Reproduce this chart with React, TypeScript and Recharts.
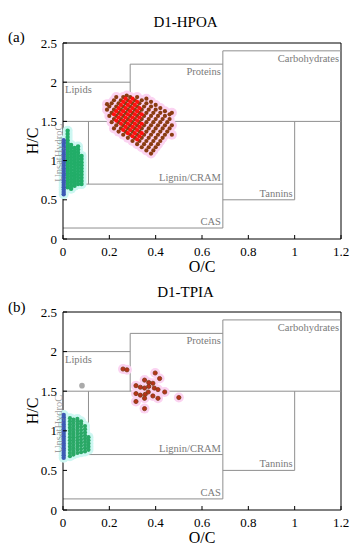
import React from "react";
import { ScatterChart, Scatter, XAxis, YAxis, ReferenceLine, ReferenceDot } from "recharts";

type Pt = [number, number];

const xTicks = [0, 0.2, 0.4, 0.6, 0.8, 1, 1.2];
const yTicks = [0, 0.5, 1, 1.5, 2, 2.5];

// van Krevelen compound-class boxes (O/C, H/C)
const regionLines: Pt[][] = [
  [[0, 2.0], [0.29, 2.0]],
  [[0.29, 1.5], [0.29, 2.23]],
  [[0.29, 2.23], [0.69, 2.23]],
  [[0.69, 0.14], [0.69, 2.4]],
  [[0.69, 2.4], [1.2, 2.4]],
  [[0, 1.5], [1.2, 1.5]],
  [[0.11, 0.7], [0.11, 1.5]],
  [[0, 0.7], [0.69, 0.7]],
  [[0.69, 0.5], [1.0, 0.5]],
  [[1.0, 0.5], [1.0, 1.5]],
  [[0, 0.14], [0.69, 0.14]],
];

const regionNames = ["Lipids", "Proteins", "Carbohydrates", "Lignin/CRAM", "Tannins", "CAS"];
const regionCorners: Pt[] = [[0, 2.0], [0.69, 2.23], [1.2, 2.4], [0.69, 0.7], [1.0, 0.5], [0.69, 0.14]];

// D1-HPOA
const hpoaBrown: Pt[] = [
  [0.22, 1.41], [0.24, 1.37], [0.26, 1.33], [0.28, 1.29], [0.3, 1.25], [0.32, 1.21], [0.34, 1.17], [0.36, 1.13], [0.38, 1.09],
  [0.21, 1.49], [0.23, 1.45], [0.25, 1.41], [0.27, 1.37], [0.29, 1.33], [0.31, 1.29], [0.33, 1.25], [0.35, 1.21], [0.37, 1.17], [0.39, 1.13],
  [0.2, 1.57], [0.22, 1.53], [0.24, 1.49], [0.26, 1.45], [0.28, 1.41], [0.3, 1.37], [0.32, 1.33], [0.34, 1.29], [0.36, 1.25], [0.38, 1.21], [0.4, 1.17],
  [0.19, 1.65], [0.21, 1.61], [0.23, 1.57], [0.25, 1.53], [0.27, 1.49], [0.29, 1.45], [0.31, 1.41], [0.33, 1.37], [0.35, 1.33], [0.37, 1.29], [0.39, 1.25], [0.41, 1.21],
  [0.19, 1.72], [0.2, 1.69], [0.22, 1.65], [0.24, 1.61], [0.26, 1.57], [0.28, 1.53], [0.3, 1.49], [0.32, 1.45], [0.34, 1.41], [0.36, 1.37], [0.38, 1.33], [0.4, 1.29], [0.42, 1.25],
  [0.21, 1.73], [0.23, 1.69], [0.25, 1.65], [0.27, 1.61], [0.29, 1.57], [0.31, 1.53], [0.33, 1.49], [0.35, 1.45], [0.37, 1.41], [0.39, 1.37], [0.41, 1.33], [0.43, 1.29],
  [0.22, 1.77], [0.24, 1.73], [0.26, 1.69], [0.28, 1.65], [0.3, 1.61], [0.32, 1.57], [0.34, 1.53], [0.36, 1.49], [0.38, 1.45], [0.4, 1.41], [0.42, 1.37], [0.44, 1.33],
  [0.23, 1.81], [0.25, 1.77], [0.27, 1.73], [0.29, 1.69], [0.31, 1.65], [0.33, 1.61], [0.35, 1.57], [0.37, 1.53], [0.39, 1.49], [0.41, 1.45], [0.43, 1.41], [0.45, 1.37], [0.47, 1.33],
  [0.26, 1.81], [0.28, 1.77], [0.3, 1.73], [0.32, 1.69], [0.34, 1.65], [0.36, 1.61], [0.38, 1.57], [0.4, 1.53], [0.42, 1.49], [0.44, 1.45], [0.46, 1.41],
  [0.29, 1.81], [0.31, 1.77], [0.33, 1.73], [0.35, 1.69], [0.37, 1.65], [0.39, 1.61], [0.41, 1.57], [0.43, 1.53], [0.45, 1.49], [0.47, 1.45],
  [0.32, 1.81], [0.34, 1.77], [0.36, 1.73], [0.38, 1.69], [0.4, 1.65], [0.42, 1.61], [0.44, 1.57], [0.46, 1.53],
  [0.36, 1.79], [0.38, 1.75], [0.4, 1.71], [0.42, 1.67], [0.44, 1.63], [0.46, 1.59],
  [0.275, 1.83], [0.47, 1.61],
];
const hpoaRed: Pt[] = [
  [0.26, 1.39], [0.28, 1.35], [0.3, 1.31], [0.32, 1.27],
  [0.23, 1.51], [0.25, 1.47], [0.27, 1.43], [0.29, 1.39], [0.31, 1.35], [0.33, 1.31],
  [0.22, 1.59], [0.24, 1.55], [0.26, 1.51], [0.28, 1.47], [0.3, 1.43], [0.32, 1.39], [0.34, 1.35],
  [0.23, 1.63], [0.25, 1.59], [0.27, 1.55], [0.29, 1.51], [0.31, 1.47], [0.33, 1.43],
  [0.24, 1.67], [0.26, 1.63], [0.28, 1.59], [0.3, 1.55], [0.32, 1.51], [0.34, 1.47],
  [0.25, 1.71], [0.27, 1.67], [0.29, 1.63], [0.31, 1.59], [0.33, 1.55],
  [0.26, 1.75], [0.28, 1.71], [0.3, 1.67], [0.32, 1.63], [0.34, 1.59],
  [0.27, 1.79], [0.29, 1.75], [0.31, 1.71], [0.33, 1.67],
  [0.3, 1.79], [0.32, 1.75],
];
const hpoaGreen: Pt[] = [
  [0.02, 0.66], [0.02, 0.7], [0.02, 0.74], [0.02, 0.78], [0.02, 0.82], [0.02, 0.86], [0.02, 0.9], [0.02, 0.94], [0.02, 0.98], [0.02, 1.02],
  [0.02, 1.06], [0.02, 1.1], [0.02, 1.14], [0.02, 1.18], [0.02, 1.22], [0.02, 1.26], [0.02, 1.3], [0.02, 1.34], [0.02, 1.38],
  [0.035, 0.64], [0.035, 0.68], [0.035, 0.72], [0.035, 0.76], [0.035, 0.8], [0.035, 0.84], [0.035, 0.88], [0.035, 0.92], [0.035, 0.96],
  [0.035, 1.0], [0.035, 1.04], [0.035, 1.08], [0.035, 1.12], [0.035, 1.16], [0.035, 1.2],
  [0.05, 0.68], [0.05, 0.72], [0.05, 0.76], [0.05, 0.8], [0.05, 0.84], [0.05, 0.88], [0.05, 0.92], [0.05, 0.96], [0.05, 1.0],
  [0.05, 1.04], [0.05, 1.08], [0.05, 1.12], [0.05, 1.16],
  [0.065, 0.7], [0.065, 0.74], [0.065, 0.78], [0.065, 0.82], [0.065, 0.86], [0.065, 0.9], [0.065, 0.94], [0.065, 0.98], [0.065, 1.02],
  [0.065, 1.06], [0.065, 1.1], [0.065, 1.14], [0.065, 1.18],
  [0.08, 0.7], [0.08, 0.74], [0.08, 0.78], [0.08, 0.82], [0.08, 0.86], [0.08, 0.9], [0.08, 0.94], [0.08, 0.98], [0.08, 1.02], [0.08, 1.06],
];
const hpoaBlue: Pt[] = [
  [0.003, 0.57], [0.003, 0.6], [0.003, 0.63], [0.003, 0.66], [0.003, 0.69], [0.003, 0.72], [0.003, 0.75], [0.003, 0.78],
  [0.003, 0.81], [0.003, 0.84], [0.003, 0.87], [0.003, 0.9], [0.003, 0.93], [0.003, 0.96], [0.003, 0.99], [0.003, 1.02],
  [0.003, 1.05], [0.003, 1.08], [0.003, 1.11], [0.003, 1.14], [0.003, 1.17], [0.003, 1.2], [0.003, 1.23], [0.003, 1.26],
];

// D1-TPIA
const tpiaRed: Pt[] = [
  [0.259, 1.78], [0.276, 1.77], [0.398, 1.73], [0.417, 1.66], [0.352, 1.64], [0.37, 1.61], [0.388, 1.6], [0.315, 1.57],
  [0.334, 1.55], [0.352, 1.54], [0.37, 1.56], [0.394, 1.54], [0.41, 1.52], [0.439, 1.49], [0.368, 1.49], [0.315, 1.47],
  [0.334, 1.45], [0.355, 1.46], [0.388, 1.44], [0.352, 1.41], [0.41, 1.41], [0.5, 1.42], [0.315, 1.37], [0.352, 1.28],
];
const tpiaGray: Pt[] = [[0.082, 1.57]];
const tpiaGreen: Pt[] = [
  [0.03, 0.68], [0.03, 0.72], [0.03, 0.76], [0.03, 0.8], [0.03, 0.84], [0.03, 0.88], [0.03, 0.92], [0.03, 0.96], [0.03, 1.0],
  [0.03, 1.04], [0.03, 1.08], [0.03, 1.12], [0.03, 1.16],
  [0.045, 0.7], [0.045, 0.74], [0.045, 0.78], [0.045, 0.82], [0.045, 0.86], [0.045, 0.9], [0.045, 0.94], [0.045, 0.98],
  [0.045, 1.02], [0.045, 1.06], [0.045, 1.1], [0.045, 1.14],
  [0.062, 0.72], [0.062, 0.76], [0.062, 0.8], [0.062, 0.84], [0.062, 0.88], [0.062, 0.92], [0.062, 0.96], [0.062, 1.0],
  [0.062, 1.04], [0.062, 1.08], [0.062, 1.12], [0.062, 1.15],
  [0.078, 0.73], [0.078, 0.77], [0.078, 0.81], [0.078, 0.85], [0.078, 0.89], [0.078, 0.93], [0.078, 0.97], [0.078, 1.01],
  [0.078, 1.05], [0.078, 1.09], [0.078, 1.12],
  [0.095, 0.74], [0.095, 0.78], [0.095, 0.82], [0.095, 0.86], [0.095, 0.9], [0.095, 0.94], [0.095, 0.98], [0.095, 1.02], [0.095, 1.06],
  [0.11, 0.76], [0.11, 0.8], [0.11, 0.84], [0.11, 0.88], [0.11, 0.92],
];
const tpiaBlue: Pt[] = [
  [0.003, 0.66], [0.003, 0.69], [0.003, 0.72], [0.003, 0.75], [0.003, 0.78], [0.003, 0.81], [0.003, 0.84],
  [0.003, 0.87], [0.003, 0.9], [0.003, 0.93], [0.003, 0.96], [0.003, 0.99], [0.003, 1.02], [0.003, 1.05],
  [0.003, 1.08], [0.003, 1.11], [0.003, 1.14], [0.003, 1.17], [0.003, 1.2],
];

const SERIF = "'Liberation Serif', 'Times New Roman', serif";
const LINE = "#8f8f8f";
const PINK = "#fbd3f1";
const CYAN = "#cdf7f2";

const toObj = (pts: Pt[]) => pts.map(([x, y]) => ({ x, y }));

const dot = (fill: string, r: number, stroke = "none") => (p: any) => (
  <circle cx={p.cx} cy={p.cy} r={r} fill={fill} stroke={stroke} strokeWidth={0.8} />
);

const XTick = (p: any) => (
  <g>
    <line x1={p.x} x2={p.x} y1={p.y} y2={p.y - 4} stroke="#000" />
    <text x={p.x} y={p.y + 17} textAnchor="middle" fontSize={13} fontFamily={SERIF} fill="#000">
      {p.payload.value}
    </text>
  </g>
);

const YTick = (p: any) => (
  <g>
    <line x1={p.x} x2={p.x + 4} y1={p.y} y2={p.y} stroke="#000" />
    <text x={p.x - 6} y={p.y} dy="0.35em" textAnchor="end" fontSize={13} fontFamily={SERIF} fill="#000">
      {p.payload.value}
    </text>
  </g>
);

const unsatLabel = (p: any) => (
  <text
    x={p.cx - 5}
    y={p.cy}
    transform={`rotate(-90 ${p.cx - 5} ${p.cy})`}
    dy="0.35em"
    fontSize={10.5}
    fontFamily={SERIF}
    fill="#8a8a8a"
    fillOpacity={0.85}
  >
    UnsatHydroC
  </text>
);

type Layer = { pts: Pt[]; fill: string; r: number; stroke?: string; halo?: string };

function Panel(props: {
  title: string;
  tag: string;
  titleY: number;
  tagY: number;
  marginTop: number;
  marginBottom: number;
  unsatFrom: number;
  layers: Layer[];
}) {
  const { title, tag, titleY, tagY, marginTop, marginBottom, unsatFrom, layers } = props;
  return (
    <div style={{ position: "relative", width: 357, height: 275 }}>
      <ScatterChart
        width={357}
        height={275}
        margin={{ top: marginTop, right: 16, bottom: marginBottom, left: 23 }}
      >
        <XAxis
          type="number"
          dataKey="x"
          domain={[0, 1.2]}
          ticks={xTicks}
          interval={0}
          height={20}
          tickSize={0}
          tickMargin={0}
          tickLine={false}
          axisLine={{ stroke: "#000" }}
          tick={XTick}
          label={(lp: any) => {
            const vb = lp.viewBox;
            return (
              <text x={vb.x + vb.width / 2} y={vb.y + 33} textAnchor="middle" fontSize={16} fontFamily={SERIF} fill="#000">
                O/C
              </text>
            );
          }}
        />
        <YAxis
          type="number"
          dataKey="y"
          domain={[0, 2.5]}
          ticks={yTicks}
          interval={0}
          width={40}
          tickSize={0}
          tickMargin={0}
          tickLine={false}
          axisLine={{ stroke: "#000" }}
          tick={YTick}
          label={(lp: any) => {
            const vb = lp.viewBox;
            const cx = vb.x + vb.width - 31;
            const cy = vb.y + vb.height / 2;
            return (
              <text x={cx} y={cy} transform={`rotate(-90 ${cx} ${cy})`} textAnchor="middle" dy="0.35em" fontSize={16} fontFamily={SERIF} fill="#000">
                H/C
              </text>
            );
          }}
        />
        <ReferenceLine y={2.5} stroke="#000" />
        <ReferenceLine x={1.2} stroke="#000" />
        {regionLines.map((seg, i) => (
          <ReferenceLine
            key={"seg" + i}
            segment={[{ x: seg[0][0], y: seg[0][1] }, { x: seg[1][0], y: seg[1][1] }]}
            stroke={LINE}
            strokeWidth={1}
          />
        ))}
        {regionNames.map((name, i) => (
          <ReferenceDot
            key={name}
            x={regionCorners[i][0]}
            y={regionCorners[i][1]}
            r={0}
            shape={(p: any) =>
              name === "Lipids" ? (
                <text x={p.cx + 2} y={p.cy + 11} fontSize={10.5} fontFamily={SERIF} fill="#7a7a7a">
                  {name}
                </text>
              ) : i < 3 ? (
                <text x={p.cx - 2} y={p.cy + 11} textAnchor="end" fontSize={10.5} fontFamily={SERIF} fill="#7a7a7a">
                  {name}
                </text>
              ) : (
                <text x={p.cx - 2} y={p.cy - 3} textAnchor="end" fontSize={10.5} fontFamily={SERIF} fill="#7a7a7a">
                  {name}
                </text>
              )
            }
          />
        ))}
        {layers
          .filter((l) => l.halo)
          .map((l, i) => (
            <Scatter key={"halo" + i} data={toObj(l.pts)} shape={dot(l.halo as string, 5)} isAnimationActive={false} />
          ))}
        {layers.map((l, i) => (
          <Scatter key={"pts" + i} data={toObj(l.pts)} shape={dot(l.fill, l.r, l.stroke)} isAnimationActive={false} />
        ))}
        <Scatter data={[{ x: 0, y: unsatFrom }]} shape={unsatLabel} isAnimationActive={false} />
      </ScatterChart>
      <svg width={357} height={275} style={{ position: "absolute", left: 0, top: 0, pointerEvents: "none" }}>
        <text x={185.5} y={titleY} textAnchor="middle" fontSize={15} fontFamily={SERIF} fill="#000">
          {title}
        </text>
        <text x={8} y={tagY} fontSize={15} fontFamily={SERIF} fill="#000">
          {tag}
        </text>
      </svg>
    </div>
  );
}

export default function App() {
  return (
    <div style={{ position: "absolute", left: 0, top: 0, width: 357, height: 550, background: "#fff" }}>
      <Panel
        title="D1-HPOA"
        tag="(a)"
        titleY={27}
        tagY={42}
        marginTop={43}
        marginBottom={16}
        unsatFrom={0.73}
        layers={[
          { pts: hpoaGreen, fill: "#22ad68", r: 2.2, halo: CYAN },
          { pts: hpoaBlue, fill: "#3c5ab4", r: 2.2, halo: CYAN },
          { pts: hpoaBrown, fill: "#8a3c12", r: 2.1, halo: PINK },
          { pts: hpoaRed, fill: "#ff1010", r: 2.1 },
        ]}
      />
      <Panel
        title="D1-TPIA"
        tag="(b)"
        titleY={22}
        tagY={37}
        marginTop={37}
        marginBottom={20}
        unsatFrom={0.72}
        layers={[
          { pts: tpiaGray, fill: "#aaaaaa", r: 2.8 },
          { pts: tpiaGreen, fill: "#2aa866", r: 2.1, halo: CYAN },
          { pts: tpiaBlue, fill: "#3c5ab4", r: 2.2, halo: CYAN },
          { pts: tpiaRed, fill: "#b8321a", r: 2.1, stroke: "#7a3a12", halo: PINK },
        ]}
      />
    </div>
  );
}
